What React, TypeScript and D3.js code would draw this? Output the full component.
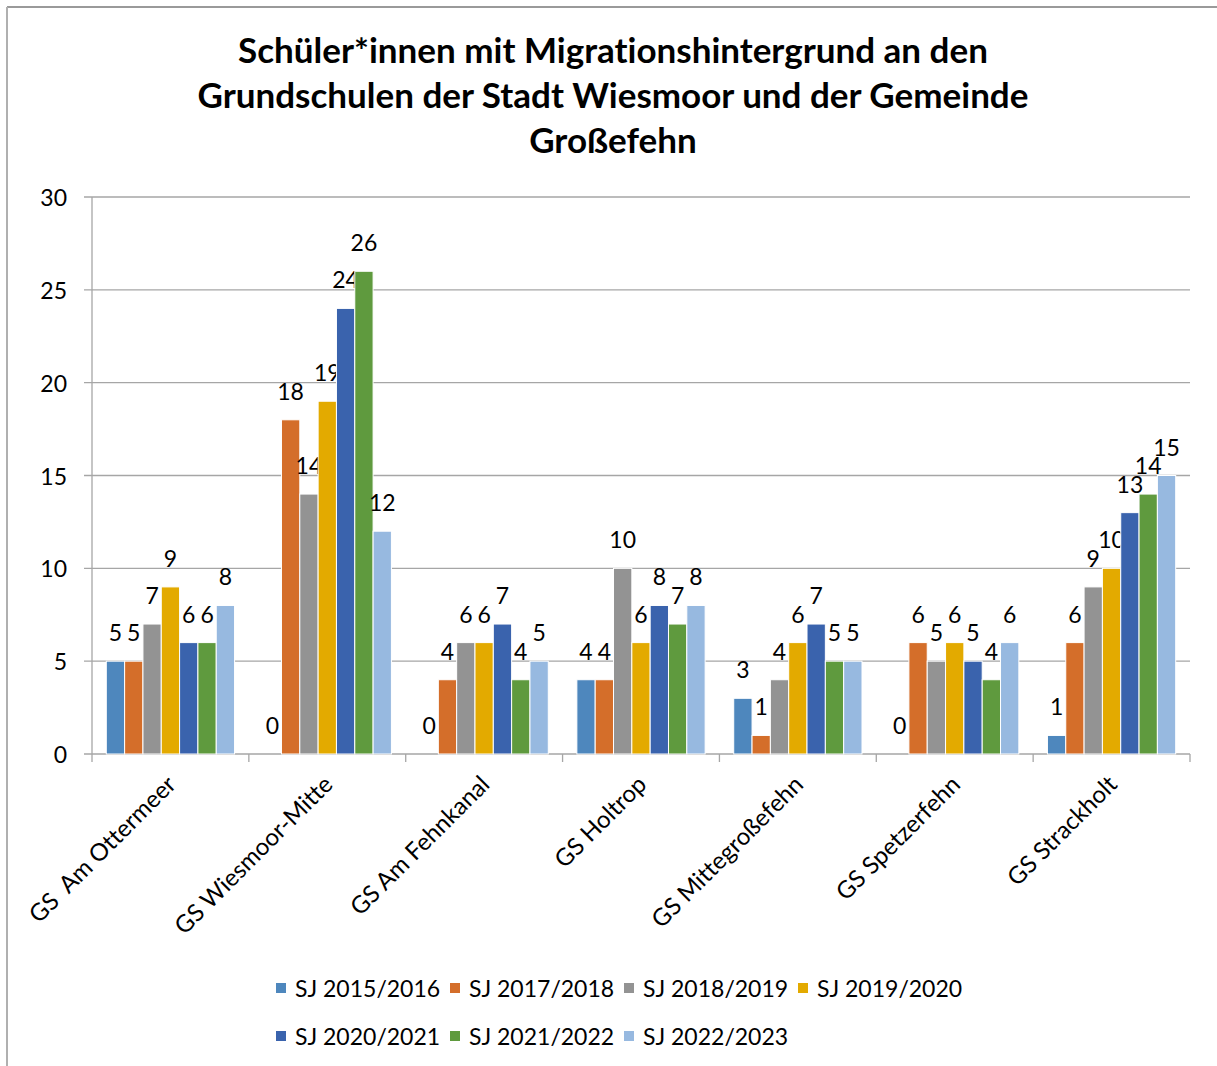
import React from "react";
import * as d3 from "d3";

const categories = [
  "GS  Am Ottermeer",
  "GS Wiesmoor-Mitte",
  "GS Am Fehnkanal",
  "GS Holtrop",
  "GS Mittegroßefehn",
  "GS Spetzerfehn",
  "GS Strackholt",
];
const seriesNames = [
  "SJ 2015/2016",
  "SJ 2017/2018",
  "SJ 2018/2019",
  "SJ 2019/2020",
  "SJ 2020/2021",
  "SJ 2021/2022",
  "SJ 2022/2023",
];
const sj2015 = [5, 0, 0, 4, 3, 0, 1];
const sj2017 = [5, 18, 4, 4, 1, 6, 6];
const sj2018 = [7, 14, 6, 10, 4, 5, 9];
const sj2019 = [9, 19, 6, 6, 6, 6, 10];
const sj2020 = [6, 24, 7, 8, 7, 5, 13];
const sj2021 = [6, 26, 4, 7, 5, 4, 14];
const sj2022 = [8, 12, 5, 8, 5, 6, 15];
const seriesValues = [sj2015, sj2017, sj2018, sj2019, sj2020, sj2021, sj2022];
const colors = ["#4E87BD", "#D46E2A", "#939393", "#E3AA00", "#3A63AD", "#5F9A3E", "#97B9E0"];
const yTicks = [0, 5, 10, 15, 20, 25, 30];
const titleLines = [
  "Schüler*innen mit Migrationshintergrund an den",
  "Grundschulen der Stadt Wiesmoor und der Gemeinde",
  "Großefehn",
];

const W = 1217;
const H = 1066;
const FONT = "Lato, 'Open Sans', sans-serif";

export default function App() {
  const left = 92;
  const right = 1190;
  const top = 197;
  const bottom = 754;
  const y = d3.scaleLinear().domain([0, 30]).range([bottom, top]);
  const x0 = d3.scaleBand<string>().domain(categories).range([left, right]).padding(0);
  const x1 = d3
    .scaleBand<string>()
    .domain(seriesNames)
    .range([0, x0.bandwidth()])
    .paddingInner(0)
    .paddingOuter(0.78);
  const bw = x1.bandwidth();

  return (
    <svg
      width={W}
      height={H}
      style={{ position: "absolute", left: 0, top: 0, background: "#fff", fontVariantLigatures: "none" }}
      fontFamily={FONT}
    >
      <rect x={0} y={0} width={W} height={H} fill="#fff" />
      {/* chart frame */}
      <line x1={7} y1={7} x2={W} y2={7} stroke="#9a9a9a" strokeWidth={2} />
      <line x1={7} y1={7} x2={7} y2={H} stroke="#b0b0b0" strokeWidth={2} />

      {/* title */}
      {titleLines.map((t, i) => (
        <text
          key={i}
          x={613}
          y={63 + i * 45}
          textAnchor="middle"
          fontSize={35}
          fontWeight="bold"
          fill="#000"
        >
          {t}
        </text>
      ))}

      {/* gridlines & y ticks */}
      {yTicks.map((t) => (
        <g key={t}>
          <line x1={84} x2={right} y1={y(t)} y2={y(t)} stroke="#A6A6A6" strokeWidth={1.3} />
          <text x={67} y={y(t) + 9} textAnchor="end" fontSize={23} fill="#000">
            {t}
          </text>
        </g>
      ))}
      {/* y axis */}
      <line x1={left} x2={left} y1={top} y2={bottom} stroke="#A6A6A6" strokeWidth={1.3} />

      {/* x ticks */}
      {categories.map((c) => (
        <line
          key={c}
          x1={x0(c)!}
          x2={x0(c)!}
          y1={bottom}
          y2={bottom + 8}
          stroke="#A6A6A6"
          strokeWidth={1.3}
        />
      ))}
      <line x1={right} x2={right} y1={bottom} y2={bottom + 8} stroke="#A6A6A6" strokeWidth={1.3} />

      {/* bars */}
      {categories.map((c, ci) => (
        <g key={c} transform={`translate(${x0(c)},0)`}>
          {seriesNames.map((s, si) => {
            const v = seriesValues[si][ci];
            const bx = x1(s)!;
            return (
              <g key={s}>
                {v > 0 && (
                  <rect
                    x={bx}
                    y={y(v)}
                    width={bw}
                    height={bottom - y(v)}
                    fill={colors[si]}
                    stroke="#fff"
                    strokeWidth={1}
                  />
                )}
                <text
                  x={bx + bw / 2}
                  y={y(v) - 20}
                  textAnchor="middle"
                  fontSize={23}
                  fill="#000"
                >
                  {v}
                </text>
              </g>
            );
          })}
        </g>
      ))}

      {/* category labels */}
      {categories.map((c) => {
        const cx = x0(c)! + x0.bandwidth() / 2 + 1;
        return (
          <text
            key={c}
            transform={`translate(${cx},${bottom + 26}) rotate(-45)`}
            textAnchor="end"
            dy="0.35em"
            fontSize={24}
            fill="#000"
            xmlSpace="preserve"
            style={{ whiteSpace: "pre" }}
          >
            {c}
          </text>
        );
      })}

      {/* legend */}
      {seriesNames.map((s, i) => {
        const row = i < 4 ? 0 : 1;
        const col = i < 4 ? i : i - 4;
        const lx = 276 + col * 174;
        const ly = 988 + row * 48;
        return (
          <g key={s}>
            <rect x={lx} y={ly - 5} width={10} height={10} fill={colors[i]} />
            <text x={295 + col * 174} y={ly + 9} fontSize={23} fill="#000">
              {s}
            </text>
          </g>
        );
      })}
    </svg>
  );
}
